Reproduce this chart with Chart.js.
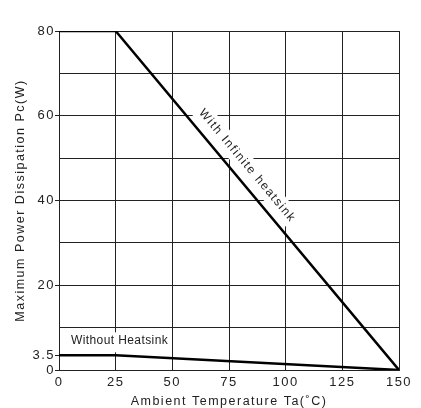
<!DOCTYPE html>
<html>
<head>
<meta charset="utf-8">
<script src="https://cdn.jsdelivr.net/npm/chart.js@4.4.1/dist/chart.umd.min.js"></script>
<style>
  html, body { margin: 0; padding: 0; background: #fff; }
</style>
</head>
<body>
<canvas id="deratingChart" width="421" height="408"></canvas>
<script>
// Pc - Ta derating data
const temps = [0, 25, 150];
const withInfiniteHeatsink = [80, 80, 0];
const withoutHeatsink = [3.5, 3.5, 0];
const xTicks = [0, 25, 50, 75, 100, 125, 150];
const yTicks = [0, 3.5, 10, 20, 30, 40, 50, 60, 70, 80];
const yLabels = [0, 3.5, 20, 40, 60, 80];

const FONT = '"Liberation Sans", Arial, sans-serif';
const INK = '#222';

// canvas letter spacing (Chart.js has no option for it)
const spacing = {
  id: 'spacing',
  beforeLayout(chart) { chart.ctx.letterSpacing = '1.5px'; },
  beforeDraw(chart) { chart.ctx.letterSpacing = '1.5px'; }
};

// where the two curve names go
function labelSpots(chart) {
  const { x, y } = chart.scales;
  const x0 = x.getPixelForValue(temps[1]), y0 = y.getPixelForValue(withInfiniteHeatsink[1]);
  const x1 = x.getPixelForValue(temps[2]), y1 = y.getPixelForValue(withInfiniteHeatsink[2]);
  const ang = Math.atan2(y1 - y0, x1 - x0);
  const t = 0.425, off = 14.5;
  return {
    slope: {
      text: 'With Infinite heatsink', spacing: '1.5px', ang,
      cx: x0 + (x1 - x0) * t + Math.sin(ang) * off,
      cy: y0 + (y1 - y0) * t - Math.cos(ang) * off
    },
    flat: {
      text: 'Without Heatsink', spacing: '0.4px',
      left: x.getPixelForValue(5.3), cy: y.getPixelForValue(7.0)
    }
  };
}

function setFont(ctx, s) {
  ctx.fillStyle = INK;
  ctx.font = '12px ' + FONT;
  ctx.letterSpacing = s.spacing;
  ctx.textBaseline = 'middle';
}

// white patch behind the names hides the grid; curves stay on top
const curveLabels = {
  id: 'curveLabels',
  beforeDatasetsDraw(chart) {
    const { ctx } = chart;
    const { slope, flat } = labelSpots(chart);
    ctx.save();
    setFont(ctx, slope);
    const w1 = ctx.measureText(slope.text).width;
    ctx.fillStyle = '#fff';
    ctx.translate(slope.cx, slope.cy);
    ctx.rotate(slope.ang);
    ctx.fillRect(-w1 / 2 - 4, -9.5, w1 + 8, 19);
    ctx.restore();

    ctx.save();
    setFont(ctx, flat);
    const w2 = ctx.measureText(flat.text).width;
    ctx.fillStyle = '#fff';
    ctx.fillRect(flat.left - 3, flat.cy - 8, w2 + 4, 20);
    ctx.restore();
  },
  afterDatasetsDraw(chart) {
    const { ctx } = chart;
    const { slope, flat } = labelSpots(chart);
    ctx.save();
    setFont(ctx, slope);
    ctx.textAlign = 'center';
    ctx.translate(slope.cx, slope.cy);
    ctx.rotate(slope.ang);
    ctx.fillText(slope.text, 0, 0);
    ctx.restore();

    ctx.save();
    setFont(ctx, flat);
    ctx.textAlign = 'left';
    ctx.fillText(flat.text, flat.left, flat.cy);
    ctx.restore();
  }
};

const toPoints = (xs, ys) => xs.map((v, i) => ({ x: v, y: ys[i] }));

new Chart(document.getElementById('deratingChart'), {
  type: 'line',
  data: {
    datasets: [
      {
        label: 'With Infinite heatsink',
        data: toPoints(temps, withInfiniteHeatsink),
        borderColor: '#000',
        borderWidth: 2.5,
        pointRadius: 0,
        tension: 0
      },
      {
        label: 'Without Heatsink',
        data: toPoints(temps, withoutHeatsink),
        borderColor: '#000',
        borderWidth: 2.5,
        pointRadius: 0,
        tension: 0
      }
    ]
  },
  options: {
    responsive: false,
    animation: false,
    devicePixelRatio: 1,
    layout: { padding: { top: 31, right: 22, left: 0, bottom: 0 } },
    plugins: {
      legend: { display: false },
      tooltip: { enabled: false },
      title: { display: false }
    },
    scales: {
      x: {
        type: 'linear',
        min: 0,
        max: 150,
        afterBuildTicks: (scale) => { scale.ticks = xTicks.map(v => ({ value: v })); },
        afterFit: (scale) => { scale.height = 38; },
        grid: { color: INK, lineWidth: 1, drawTicks: false },
        border: { color: INK, width: 1 },
        ticks: {
          color: INK,
          font: { family: FONT, size: 13 },
          padding: 5,
          maxRotation: 0,
          autoSkip: false
        },
        title: {
          display: true,
          text: 'Ambient Temperature Ta(˚C)',
          color: INK,
          font: { family: FONT, size: 12.5, lineHeight: 1.1 },
          padding: { top: 0, bottom: 0 }
        }
      },
      y: {
        type: 'linear',
        min: 0,
        max: 80,
        afterBuildTicks: (scale) => { scale.ticks = yTicks.map(v => ({ value: v })); },
        afterFit: (scale) => { scale.width = 59; },
        grid: {
          color: (c) => (c.tick && c.tick.value === 3.5) ? 'rgba(0,0,0,0)' : INK,
          tickColor: (c) => (c.tick && yLabels.includes(c.tick.value)) ? INK : 'rgba(0,0,0,0)',
          lineWidth: 1,
          tickLength: 4
        },
        border: { color: INK, width: 1 },
        ticks: {
          color: INK,
          font: { family: FONT, size: 13 },
          padding: 0,
          autoSkip: false,
          callback: (v) => yLabels.includes(v) ? String(v) : ''
        },
        title: {
          display: true,
          text: 'Maximum Power Dissipation Pc(W)',
          color: INK,
          font: { family: FONT, size: 12.5, lineHeight: 1.2 },
          padding: { top: 13, bottom: 0 }
        }
      }
    }
  },
  plugins: [spacing, curveLabels]
});
</script>
</body>
</html>
